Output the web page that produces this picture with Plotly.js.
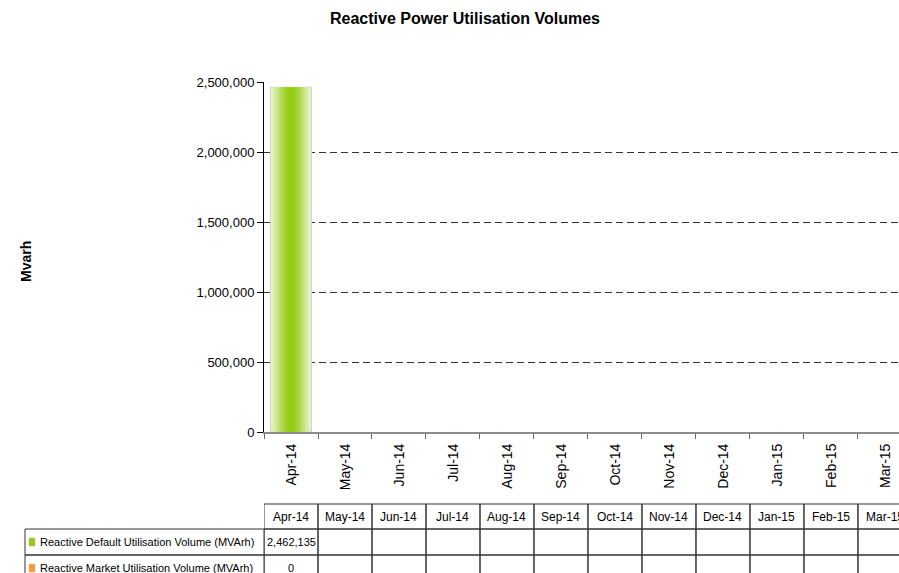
<!DOCTYPE html>
<html>
<head>
<meta charset="utf-8">
<script src="https://cdn.plot.ly/plotly-3.0.1.min.js"></script>
<style>
  html, body { margin: 0; padding: 0; background: #fff; }
  #chart { width: 899px; height: 573px; }
</style>
</head>
<body>
<div id="chart"></div>
<script>
// data
let months = ['Apr-14', 'May-14', 'Jun-14', 'Jul-14', 'Aug-14', 'Sep-14',
              'Oct-14', 'Nov-14', 'Dec-14', 'Jan-15', 'Feb-15', 'Mar-15'];
let defaultVolume = [2462135, null, null, null, null, null, null, null, null, null, null, null];
let marketVolume = [0, null, null, null, null, null, null, null, null, null, null, null];
let seriesNames = ['Reactive Default Utilisation Volume (MVArh)', 'Reactive Market Utilisation Volume (MVArh)'];
let seriesValues = [defaultVolume, marketVolume];
let seriesColors = ['#99cc00', '#ff9933'];
let yTicks = [0, 500000, 1000000, 1500000, 2000000, 2500000];

let font = 'Liberation Sans, Arial, sans-serif';

// bar gradient faked with overlaid bars, light at the edges, dark in the middle
let gradient = [
    [0.76, '#e8f4c9'],
    [0.68, '#ddefb0'],
    [0.60, '#d2ea98'],
    [0.52, '#c6e47f'],
    [0.44, '#badf66'],
    [0.36, '#afd950'],
    [0.28, '#a5d43a'],
    [0.20, '#9dd026'],
    [0.12, '#98cc12']
];

let traces = [];
gradient.forEach(function (g, k) {
    traces.push({
        type: 'bar',
        x: months,
        y: defaultVolume,
        width: g[0],
        marker: {
            color: g[1],
            line: {color: k === 0 ? '#cfcfcf' : g[1], width: k === 0 ? 1 : 0}
        },
        hoverinfo: 'skip',
        showlegend: false
    });
});
traces.push({
    type: 'bar',
    x: months,
    y: marketVolume,
    width: 0.76,
    marker: {color: seriesColors[1]},
    showlegend: false
});

// table under the axis: pixel rows converted to paper units
let plotTop = 82, plotBottom = 432;
function py(p) { return (plotBottom - p) / (plotBottom - plotTop); }
function px(p) { return (p - 264) / (899 - 264); }
let rowEdges = [504, 529, 555, 581];

let shapes = [];
let annotations = [];
let lineStyle = {color: '#333', width: 1};

months.forEach(function (m, i) {
    for (let r = 0; r < 3; r++) {
        shapes.push({
            type: 'rect', xref: 'x', yref: 'paper',
            x0: i - 0.5, x1: i + 0.5,
            y0: py(rowEdges[r]), y1: py(rowEdges[r + 1]),
            line: lineStyle, layer: 'above'
        });
    }
    annotations.push({
        xref: 'x', yref: 'paper', x: m, y: py((rowEdges[0] + rowEdges[1]) / 2),
        text: m, showarrow: false, yanchor: 'middle',
        font: {family: font, size: 12, color: '#000'}
    });
    seriesValues.forEach(function (vals, s) {
        let v = vals[i];
        if (v === null) return;
        annotations.push({
            xref: 'x', yref: 'paper', x: m, y: py((rowEdges[s + 1] + rowEdges[s + 2]) / 2),
            text: v.toLocaleString('en-US'), showarrow: false, yanchor: 'middle',
            font: {family: font, size: 11, color: '#000'}
        });
    });
});

seriesNames.forEach(function (name, s) {
    let yTop = rowEdges[s + 1], yBot = rowEdges[s + 2];
    shapes.push({
        type: 'rect', xref: 'paper', yref: 'paper',
        x0: px(25), x1: 0, y0: py(yTop), y1: py(yBot),
        line: lineStyle, layer: 'above'
    });
    let mid = (yTop + yBot) / 2;
    shapes.push({
        type: 'rect', xref: 'paper', yref: 'paper',
        x0: px(29), x1: px(35),
        y0: py(mid - 4), y1: py(mid + 4),
        fillcolor: seriesColors[s], line: {color: '#bbb', width: 0.5}
    });
    annotations.push({
        xref: 'paper', yref: 'paper', x: px(38), y: py(mid),
        xanchor: 'left', yanchor: 'middle',
        text: name, showarrow: false,
        font: {family: font, size: 11, color: '#000'}
    });
});

annotations.push({
    xref: 'paper', yref: 'paper', x: px(16), y: py(262),
    text: '<b>Mvarh</b>', textangle: -90, showarrow: false,
    font: {family: font, size: 14, color: '#000'}
});

let layout = {
    width: 899,
    height: 573,
    margin: {l: 264, r: 0, t: plotTop, b: 573 - plotBottom, pad: 0},
    paper_bgcolor: '#fff',
    plot_bgcolor: '#fff',
    barmode: 'overlay',
    showlegend: false,
    font: {family: font, size: 12, color: '#000'},
    title: {
        text: '<b>Reactive Power Utilisation Volumes</b>',
        x: 465 / 899, xref: 'container', xanchor: 'center',
        y: 1 - 18 / 573, yref: 'container', yanchor: 'middle',
        font: {family: font, size: 16, color: '#000'}
    },
    xaxis: {
        type: 'category',
        range: [-0.5, 11.26],
        tickson: 'boundaries',
        ticks: 'outside',
        ticklen: 5,
        tickcolor: '#666',
        tickangle: -90,
        ticklabelstandoff: 4,
        tickfont: {family: font, size: 14, color: '#000'},
        showline: true,
        linecolor: '#8a8a8a',
        linewidth: 2,
        showgrid: false,
        zeroline: false,
        fixedrange: true
    },
    yaxis: {
        range: [0, 2500000],
        tickvals: yTicks,
        tickformat: ',d',
        ticks: 'outside',
        ticklen: 6,
        tickcolor: '#000',
        tickfont: {family: font, size: 13, color: '#000'},
        showline: true,
        linecolor: '#000',
        linewidth: 1,
        showgrid: true,
        gridcolor: '#333',
        griddash: '7px,4px',
        gridwidth: 1,
        zeroline: false,
        fixedrange: true
    },
    shapes: shapes,
    annotations: annotations
};

Plotly.newPlot('chart', traces, layout, {displayModeBar: false, staticPlot: true});
</script>
</body>
</html>
